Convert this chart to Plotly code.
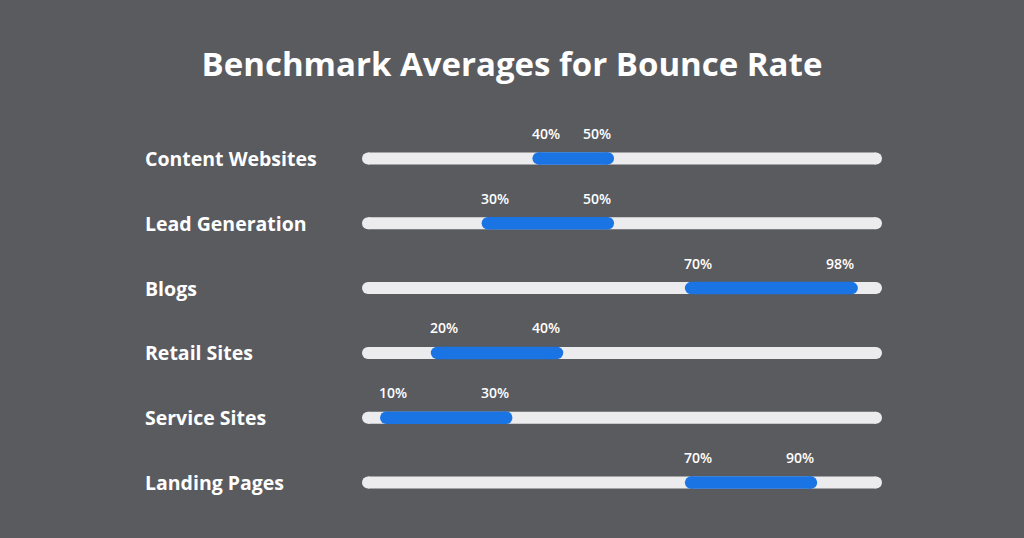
import plotly.graph_objects as go

# ---- data ----
categories = ["Content Websites", "Lead Generation", "Blogs", "Retail Sites", "Service Sites", "Landing Pages"]
low_pct = [40, 30, 70, 20, 10, 70]
high_pct = [50, 50, 98, 40, 30, 90]
title_text = "Benchmark Averages for Bounce Rate"

# ---- styles ----
BG = "#5a5b5f"
TRACK = "#ececee"
BLUE = "#1b74e4"
FONT = "Open Sans"
SCALE_RANGE = [5, 105]      # visual extent of the grey track (percent scale)
PAD_L, PAD_R = 1.4, 2.2     # rounded-cap padding around value endpoints (percent units)

fig = go.Figure()

for cat in categories:
    # grey track spanning the full scale
    fig.add_trace(go.Scatter(
        x=SCALE_RANGE, y=[cat, cat], mode="lines+markers",
        line=dict(color=TRACK, width=12),
        marker=dict(color=TRACK, size=12, line=dict(width=0)),
        cliponaxis=False, hoverinfo="skip", showlegend=False))

for cat, lo, hi in zip(categories, low_pct, high_pct):
    fig.add_trace(go.Scatter(
        x=[lo - PAD_L, hi + PAD_R], y=[cat, cat], mode="lines+markers",
        line=dict(color=BLUE, width=12.5),
        marker=dict(color=BLUE, size=12.5, line=dict(width=0)),
        cliponaxis=False, showlegend=False,
        hovertemplate=f"{cat}: {lo}%–{hi}%<extra></extra>"))
    for v in (lo, hi):
        fig.add_annotation(x=v, y=cat, text=f"{v}%", showarrow=False,
                           yshift=25, xanchor="center", yanchor="middle",
                           font=dict(family=FONT, size=14, color="white", weight=600))
    fig.add_annotation(x=-0.443, xref="paper", y=cat, text=cat, showarrow=False,
                       xanchor="left", yanchor="middle",
                       font=dict(family=FONT, size=19.5, color="white", weight="bold"))

fig.update_layout(
    width=1024, height=538,
    paper_bgcolor=BG, plot_bgcolor=BG,
    margin=dict(l=368, r=148, t=125.5, b=22.5),
    title=dict(text=title_text, x=0.5, xanchor="center", y=1 - 64 / 538, yanchor="middle",
               yref="container",
               font=dict(family=FONT, size=33, color="white", weight="bold")),
    xaxis=dict(range=SCALE_RANGE, visible=False, fixedrange=True),
    yaxis=dict(type="category", categoryorder="array", categoryarray=categories,
               range=[len(categories) - 0.5, -0.5], visible=False, fixedrange=True),
)

fig.write_html("out.html",
               config={"displayModeBar": False},
               post_script="document.body.style.margin='0';document.body.style.background='" + BG + "';")
